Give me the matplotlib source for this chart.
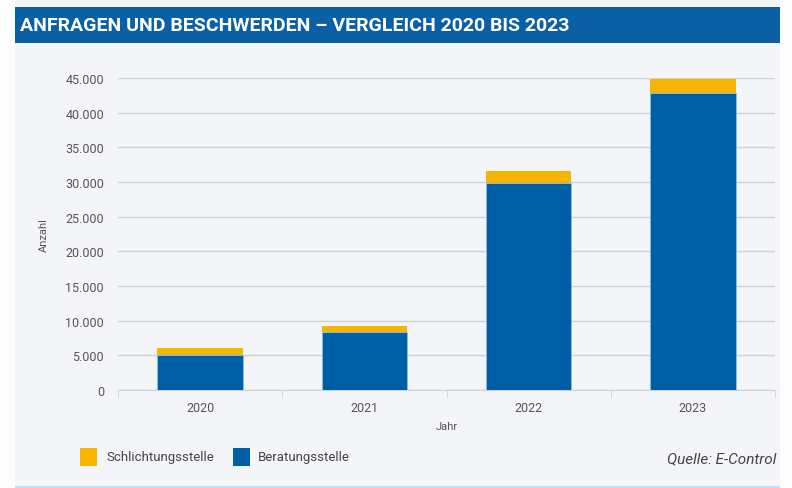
import numpy as np
import matplotlib.pyplot as plt
from matplotlib.patches import Rectangle
from matplotlib.ticker import FuncFormatter

years = ["2020", "2021", "2022", "2023"]
beratung = [5000, 8300, 29900, 42900]
schlichtung = [1000, 1000, 1700, 2000]

BG = "#f4f5f9"
BLUE = "#005ea5"
YELLOW = "#f6b500"
GRID = "#cdd1d8"
TXT = "#555555"

plt.rcParams["font.family"] = ["Roboto", "DejaVu Sans"]

fig = plt.figure(figsize=(7.92, 4.89), dpi=100)
fig.patch.set_facecolor("#fdfdfe")

# panel background
fig.patches.append(Rectangle((15 / 792, 2 / 489), 765 / 792, 487 / 489,
                             transform=fig.transFigure, facecolor=BG,
                             edgecolor="none", zorder=0))
# title bar
fig.patches.append(Rectangle((15 / 792, 1 - 44 / 489), 765 / 792, 36 / 489,
                             transform=fig.transFigure, facecolor="#0b5fa5",
                             edgecolor="none", zorder=0))
fig.text(20 / 792, 1 - 26 / 489, "ANFRAGEN UND BESCHWERDEN – VERGLEICH 2020 BIS 2023",
         color="white", fontsize=14, fontweight="bold", va="center", ha="left")
# thin line at bottom
fig.patches.append(Rectangle((15 / 792, 0), 765 / 792, 2 / 489,
                             transform=fig.transFigure, facecolor="#bfe0f6",
                             edgecolor="none"))

ax = fig.add_axes([118 / 792, 1 - 391 / 489, 657 / 792, 312 / 489])
ax.set_zorder(5)
ax.set_facecolor(BG)
x = np.arange(len(years))
ax.bar(x, beratung, width=0.52, color=BLUE, edgecolor="#7fc3ee", linewidth=0.6, zorder=3)
ax.bar(x, schlichtung, bottom=beratung, width=0.52, color=YELLOW, edgecolor="none", zorder=3)

ax.set_xlim(-0.5, 3.5)
ax.set_ylim(0, 45000)
ax.set_yticks(np.arange(0, 45001, 5000))
ax.yaxis.set_major_formatter(FuncFormatter(lambda v, p: f"{int(v):,}".replace(",", ".")))
ax.set_xticks(x)
ax.set_xticklabels(years)
ax.set_xticks(np.arange(-0.5, 4, 1), minor=True)
ax.tick_params(axis="x", which="major", length=0, pad=8, labelsize=9, labelcolor=TXT)
ax.tick_params(axis="x", which="minor", length=5, color=GRID)
ax.tick_params(axis="y", length=0, pad=10, labelsize=9, labelcolor=TXT)
ax.grid(axis="y", color=GRID, linewidth=1, zorder=0)
for s in ["top", "right", "left"]:
    ax.spines[s].set_visible(False)
ax.spines["bottom"].set_color(GRID)

ax.set_ylabel("Anzahl", fontsize=8, color=TXT, labelpad=12)
ax.set_xlabel("Jahr", fontsize=8, color=TXT, labelpad=5)

# legend
fig.patches.append(Rectangle((80 / 792, 1 - 467 / 489), 17 / 792, 18 / 489,
                             transform=fig.transFigure, facecolor=YELLOW, edgecolor="none"))
fig.text(106 / 792, 1 - 458 / 489, "Schlichtungsstelle", fontsize=9.5, color="#444444", va="center")
fig.patches.append(Rectangle((233 / 792, 1 - 467 / 489), 17 / 792, 18 / 489,
                             transform=fig.transFigure, facecolor=BLUE, edgecolor="none"))
fig.text(258 / 792, 1 - 458 / 489, "Beratungsstelle", fontsize=9.5, color="#444444", va="center")
fig.text(776 / 792, 1 - 459 / 489, "Quelle: E-Control", fontsize=11, style="italic",
         color="#444444", ha="right", va="center")

fig.savefig("out.png", dpi=100, facecolor=fig.get_facecolor())
